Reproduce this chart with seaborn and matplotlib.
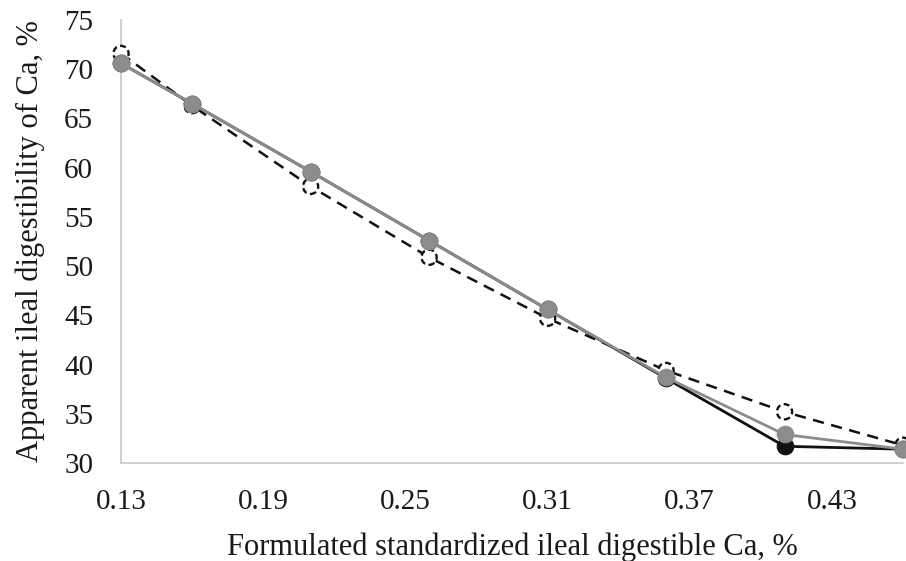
import matplotlib
matplotlib.use("Agg")
import matplotlib.pyplot as plt
import seaborn as sns
import pandas as pd

x_vals = [0.13, 0.16, 0.21, 0.26, 0.31, 0.36, 0.41, 0.46]
series_dashed = [71.6, 66.3, 58.1, 50.9, 44.7, 39.4, 35.2, 31.8]
series_black = [70.6, 66.5, 59.6, 52.6, 45.6, 38.6, 31.7, 31.4]
series_gray = [70.6, 66.5, 59.6, 52.6, 45.6, 38.7, 32.9, 31.4]
x_ticks = [0.13, 0.19, 0.25, 0.31, 0.37, 0.43]
y_ticks = [30, 35, 40, 45, 50, 55, 60, 65, 70, 75]

sns.set_theme(style="white")
plt.rcParams['font.family'] = ['Liberation Serif', 'DejaVu Serif']

fig, ax = plt.subplots(figsize=(9.06, 5.61), dpi=100)

df_d = pd.DataFrame({"x": x_vals, "y": series_dashed})
df_b = pd.DataFrame({"x": x_vals, "y": series_black})
df_g = pd.DataFrame({"x": x_vals, "y": series_gray})

# dashed series: line, then open markers with dashed outline
sns.lineplot(data=df_d, x="x", y="y", ax=ax, color="#111111", linewidth=1.8,
             linestyle=(0, (4.5, 3)), zorder=3, clip_on=False)
sns.scatterplot(data=df_d, x="x", y="y", ax=ax, s=120, facecolor="white",
                edgecolor="#111111", linewidth=1.7, linestyle=(0, (2.5, 1.5)),
                zorder=3.5, clip_on=False)
sns.lineplot(data=df_b, x="x", y="y", ax=ax, color="#111111", linewidth=2,
             marker="o", markersize=12, markerfacecolor="#111111",
             markeredgecolor="#111111", zorder=4, clip_on=False)
sns.lineplot(data=df_g, x="x", y="y", ax=ax, color="#8c8c8c", linewidth=2,
             marker="o", markersize=12, markerfacecolor="#8c8c8c",
             markeredgecolor="#8c8c8c", zorder=5, clip_on=False)

ax.set_xlim(0.13, 0.46)
ax.set_ylim(30, 75)
ax.set_xticks(x_ticks)
ax.set_xticklabels([f"{t:.2f}" for t in x_ticks])
ax.set_yticks(y_ticks)
ax.tick_params(axis="both", labelsize=21, length=0, colors="#1a1a1a")
ax.tick_params(axis="x", pad=19)
ax.tick_params(axis="y", pad=20)

for s in ["top", "right"]:
    ax.spines[s].set_visible(False)
for s in ["left", "bottom"]:
    ax.spines[s].set_color("#c8c8c8")
    ax.spines[s].set_linewidth(1.2)

ax.set_xlabel("Formulated standardized ileal digestible Ca, %", fontsize=22, color="#1a1a1a", labelpad=12)
ax.set_ylabel("Apparent ileal digestibility of Ca, %", fontsize=22, color="#1a1a1a", labelpad=14)
ax.grid(False)

fig.subplots_adjust(left=121/906, right=903/906, top=1-20/561, bottom=1-463/561)
fig.savefig("out.png", dpi=100)
